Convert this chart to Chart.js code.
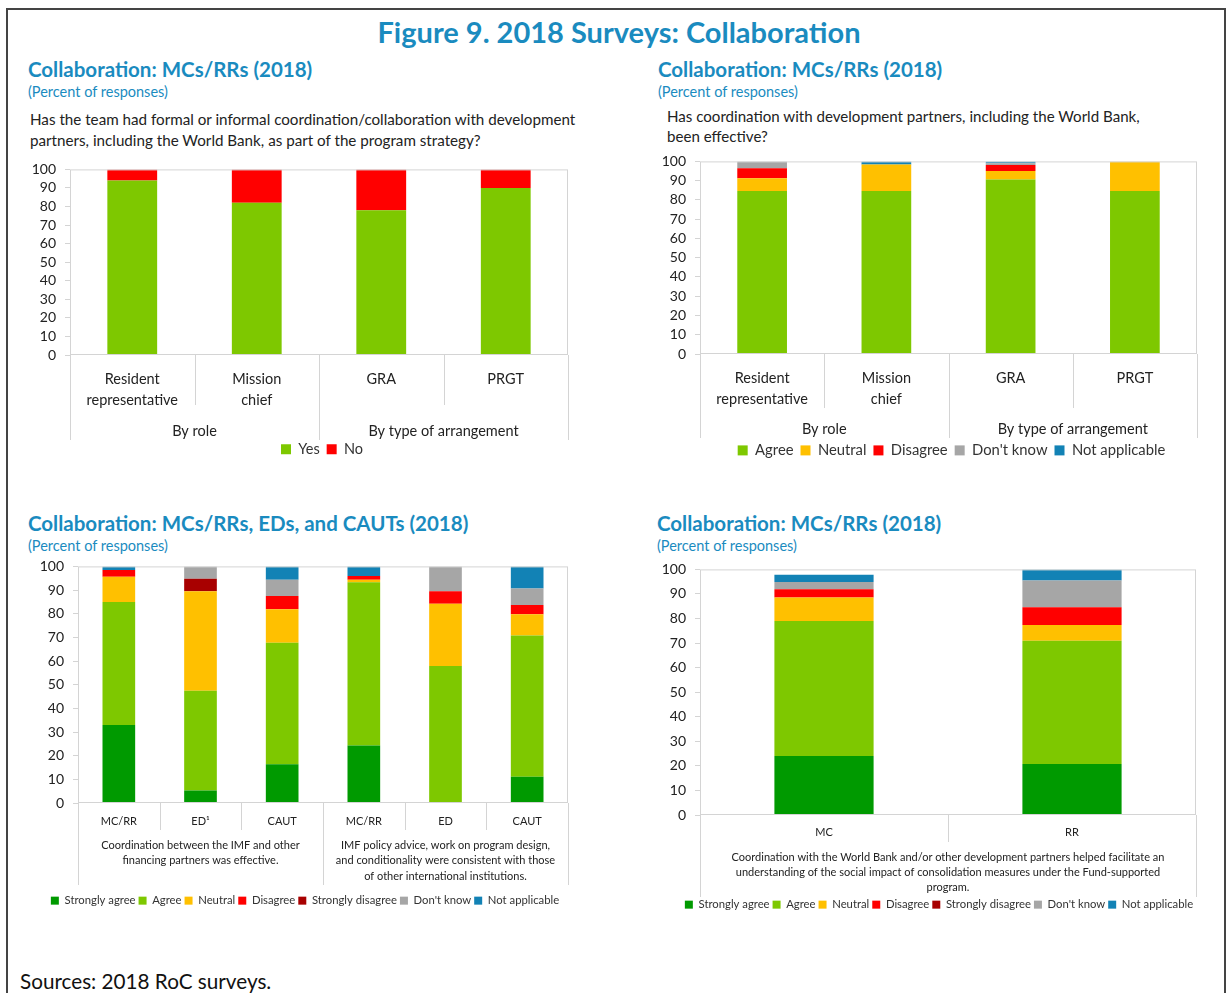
<!DOCTYPE html>
<html>
<head>
<meta charset="utf-8">
<script src="https://cdn.jsdelivr.net/npm/chart.js@4"></script>
<style>
body { margin: 0; background: #fff; font-family: Lato, sans-serif; }
#page { position: relative; width: 1231px; height: 993px; overflow: hidden; }
.frame { position: absolute; left: 6px; top: 8px; width: 1216px; height: 1000px; border: 2px solid #444; }
.t { position: absolute; white-space: nowrap; }
.main { left: 0; width: 1238px; top: 14px; line-height: 36px; text-align: center; font-size: 29px; font-weight: bold; color: #1a8bbf; }
.sub { font-size: 20.5px; line-height: 24px; font-weight: bold; color: #1a8bbf; }
.unit { font-size: 14.5px; line-height: 16px; color: #1a8bbf; }
.q { font-size: 15.2px; line-height: 21px; color: #222; }
.src { font-size: 20.7px; line-height: 24px; color: #111; }
canvas { position: absolute; }
</style>
</head>
<body>
<div id="page">
  <div class="frame"></div>
  <div class="t main">Figure 9. 2018 Surveys: Collaboration</div>

  <div class="t sub" style="left:28px;top:57px">Collaboration: MCs/RRs (2018)</div>
  <div class="t unit" style="left:28px;top:84px">(Percent of responses)</div>
  <div class="t q" style="left:30px;top:109px">Has the team had formal or informal coordination/collaboration with development<br>partners, including the World Bank, as part of the program strategy?</div>

  <div class="t sub" style="left:658px;top:57px">Collaboration: MCs/RRs (2018)</div>
  <div class="t unit" style="left:658px;top:84px">(Percent of responses)</div>
  <div class="t q" style="left:667px;top:106px;line-height:20px;font-size:15.1px">Has coordination with development partners, including the World Bank,<br>been effective?</div>

  <div class="t sub" style="left:28px;top:511px">Collaboration: MCs/RRs, EDs, and CAUTs (2018)</div>
  <div class="t unit" style="left:28px;top:538px">(Percent of responses)</div>

  <div class="t sub" style="left:657px;top:511px">Collaboration: MCs/RRs (2018)</div>
  <div class="t unit" style="left:657px;top:538px">(Percent of responses)</div>

  <div class="t src" style="left:20px;top:969px">Sources: 2018 RoC surveys.</div>

  <canvas id="c1" width="560" height="305" style="left:20px;top:152px"></canvas>
  <canvas id="c2" width="560" height="314" style="left:650px;top:144px"></canvas>
  <canvas id="c3" width="560" height="365" style="left:20px;top:549px"></canvas>
  <canvas id="c4" width="560" height="364" style="left:650px;top:552px"></canvas>
</div>

<script>
// top left: yes / no
const roleCats = [['Resident', 'representative'], ['Mission', 'chief'], 'GRA', 'PRGT'];
const roleGroups = [['By role'], ['By type of arrangement']];
const roleGroupStarts = [0, 2];
const yesVals = [94, 82, 78, 90];
const noVals = [6, 18, 22, 10];

// top right: effectiveness
const agreeTop = [84.6, 84.6, 90.6, 84.6];
const neutralTop = [6.6, 13.8, 4.4, 15.4];
const disagreeTop = [5.3, 0, 3.1, 0];
const dontKnowTop = [3.5, 0, 1.0, 0];
const notApplTop = [0, 1.6, 0.9, 0];

// bottom left: MCs/RRs, EDs, CAUTs
const respCats = ['MC/RR', 'ED¹', 'CAUT', 'MC/RR', 'ED', 'CAUT'];
const statements = [
  ['Coordination between the IMF and other', 'financing partners was effective.'],
  ['IMF policy advice, work on program design,', 'and conditionality were consistent with those', 'of other international institutions.']
];
const statementStarts = [0, 3];
const sAgree3 = [33, 5.3, 16.4, 24.3, 0, 11.1];
const agree3 = [52, 42.1, 51.3, 69, 57.9, 59.7];
const neutral3 = [10.6, 42.1, 14.2, 1.1, 26.3, 9];
const disagree3 = [2.9, 0, 5.6, 1.5, 5.3, 3.9];
const sDisagree3 = [0, 5.3, 0, 0, 0, 0];
const dontKnow3 = [0, 5.2, 6.9, 0, 10.5, 7];
const notAppl3 = [1.5, 0, 5.6, 4.1, 0, 9.3];

// bottom right: social impact
const mcRrCats = ['MC', 'RR'];
const statement4 = [[
  'Coordination with the World Bank and/or other development partners helped facilitate an',
  'understanding of the social impact of consolidation measures under the Fund-supported',
  'program.'
]];
const sAgree4 = [24, 20.8];
const agree4 = [55, 50.1];
const neutral4 = [9.6, 6.5];
const disagree4 = [3.3, 7.2];
const sDisagree4 = [0, 0];
const dontKnow4 = [3, 10.9];
const notAppl4 = [2.9, 4.5];

const GREEN = '#7ec800', DKGREEN = '#009a00', YELLOW = '#ffc000', RED = '#ff0000',
      DKRED = '#a80000', GRAY = '#a6a6a6', BLUE = '#1282b5';
const FONT = 'Lato, sans-serif';

// draws plot frame, category separators and group labels under the x axis
const groupAxis = {
  id: 'groupAxis',
  afterInit(chart, args, opts) {
    const lg = chart.legend;
    if (lg) {
      const fit = lg.fit;
      lg.fit = function () { fit.call(this); this.height = opts.legendH; };
    }
  },
  afterLayout(chart, args, opts) {
    // nudge the legend sideways, like the original
    const lg = chart.legend;
    if (lg && opts.legendDx) {
      lg.left += opts.legendDx;
      lg.right += opts.legendDx;
    }
  },
  afterDraw(chart, args, opts) {
    const ctx = chart.ctx, a = chart.chartArea, x = chart.scales.x;
    const n = chart.data.labels.length;
    ctx.save();
    ctx.strokeStyle = '#d4d4d4';
    ctx.lineWidth = 1;
    ctx.strokeRect(a.left + 0.5, a.top + 0.5, a.width - 1, a.height - 1);
    for (let i = 0; i <= n; i++) {
      let px;
      if (i === 0) px = a.left;
      else if (i === n) px = a.right;
      else px = (x.getPixelForValue(i - 1) + x.getPixelForValue(i)) / 2;
      const long = i === 0 || i === n || opts.starts.includes(i);
      px = Math.round(px) + 0.5;
      ctx.beginPath();
      ctx.moveTo(px, a.bottom);
      ctx.lineTo(px, a.bottom + (long ? opts.longLen : opts.shortLen));
      ctx.stroke();
    }
    ctx.fillStyle = '#222';
    ctx.font = opts.font;
    ctx.textAlign = 'center';
    ctx.textBaseline = 'middle';
    opts.groups.forEach((g, k) => {
      const s = opts.starts[k];
      const e = (k + 1 < opts.starts.length ? opts.starts[k + 1] : n) - 1;
      const cx = (x.getPixelForValue(s) + x.getPixelForValue(e)) / 2;
      g.forEach((line, j) => ctx.fillText(line, cx, a.bottom + opts.groupY + j * opts.lineH));
    });
    ctx.restore();
  }
};

function makeChart(id, labels, datasets, s) {
  return new Chart(document.getElementById(id), {
    type: 'bar',
    data: { labels: labels, datasets: datasets },
    plugins: [groupAxis],
    options: {
      responsive: false,
      animation: false,
      layout: { padding: { top: 10, right: s.padRight, left: 0, bottom: 0 } },
      datasets: { bar: { categoryPercentage: 1, barPercentage: 0.4 } },
      scales: {
        x: {
          stacked: true,
          grid: { display: false },
          border: { display: false },
          ticks: { color: '#222', padding: s.xPad, maxRotation: 0, autoSkip: false,
                   font: { family: FONT, size: s.xFont, lineHeight: s.xLine } },
          afterFit(sc) { sc.height = s.xH; }
        },
        y: {
          stacked: true,
          min: 0, max: 100,
          grid: { drawOnChartArea: false, tickLength: 5, color: '#d4d4d4' },
          border: { display: false },
          ticks: { stepSize: 10, autoSkip: false, color: '#222', padding: s.yPad,
                   font: { family: FONT, size: s.yFont } },
          afterFit(sc) { sc.width = s.yW; }
        }
      },
      plugins: {
        tooltip: { enabled: false },
        legend: {
          position: 'bottom',
          labels: {
            boxWidth: s.box, boxHeight: s.box, padding: s.legPad, color: '#333',
            font: { family: FONT, size: s.legFont }
          }
        },
        groupAxis: {
          groups: s.groups, starts: s.starts, shortLen: s.shortLen, longLen: s.longLen,
          groupY: s.groupY, lineH: s.lineH, font: s.groupFont, legendH: s.legendH,
          legendDx: s.legendDx
        }
      }
    }
  });
}

function ds(label, data, color) {
  return { label: label, data: data, backgroundColor: color, borderWidth: 0 };
}

makeChart('c1', roleCats, [
  ds('Yes', yesVals, GREEN),
  ds('No', noVals, RED)
], {
  padRight: 12, xPad: 6, xFont: 14.5, xLine: 1.45, xH: 80, yW: 50, yPad: 9, yFont: 14,
  box: 10, legPad: 7, legFont: 14.5, groups: roleGroups, starts: roleGroupStarts,
  shortLen: 50, longLen: 85, groupY: 76, lineH: 20, groupFont: '14.5px ' + FONT, legendH: 22,
  legendDx: 28
});

makeChart('c2', roleCats, [
  ds('Agree', agreeTop, GREEN),
  ds('Neutral', neutralTop, YELLOW),
  ds('Disagree', disagreeTop, RED),
  ds("Don't know", dontKnowTop, GRAY),
  ds('Not applicable', notApplTop, BLUE)
], {
  padRight: 13, xPad: 6, xFont: 14.5, xLine: 1.45, xH: 82, yW: 50, yPad: 9, yFont: 14,
  box: 10, legPad: 7, legFont: 14.8, groups: roleGroups, starts: roleGroupStarts,
  shortLen: 54, longLen: 84, groupY: 75, lineH: 20, groupFont: '14.5px ' + FONT, legendH: 22,
  legendDx: 28
});

makeChart('c3', respCats, [
  ds('Strongly agree', sAgree3, DKGREEN),
  ds('Agree', agree3, GREEN),
  ds('Neutral', neutral3, YELLOW),
  ds('Disagree', disagree3, RED),
  ds('Strongly disagree', sDisagree3, DKRED),
  ds("Don't know", dontKnow3, GRAY),
  ds('Not applicable', notAppl3, BLUE)
], {
  padRight: 12, xPad: 4, xFont: 11, xLine: 1.2, xH: 89, yW: 58, yPad: 9, yFont: 14,
  box: 8, legPad: 3, legFont: 11.3, groups: statements, starts: statementStarts,
  shortLen: 27, longLen: 82, groupY: 42, lineH: 15.5, groupFont: '11px ' + FONT, legendH: 22,
  legendDx: 11
});

makeChart('c4', mcRrCats, [
  ds('Strongly agree', sAgree4, DKGREEN),
  ds('Agree', agree4, GREEN),
  ds('Neutral', neutral4, YELLOW),
  ds('Disagree', disagree4, RED),
  ds('Strongly disagree', sDisagree4, DKRED),
  ds("Don't know", dontKnow4, GRAY),
  ds('Not applicable', notAppl4, BLUE)
], {
  padRight: 14, xPad: 3, xFont: 11, xLine: 1.2, xH: 81, yW: 50, yPad: 9, yFont: 14,
  box: 8, legPad: 3, legFont: 11.3, groups: statement4, starts: [0],
  shortLen: 27, longLen: 82, groupY: 42, lineH: 15, groupFont: '11px ' + FONT, legendH: 20,
  legendDx: 16
});
</script>
</body>
</html>
